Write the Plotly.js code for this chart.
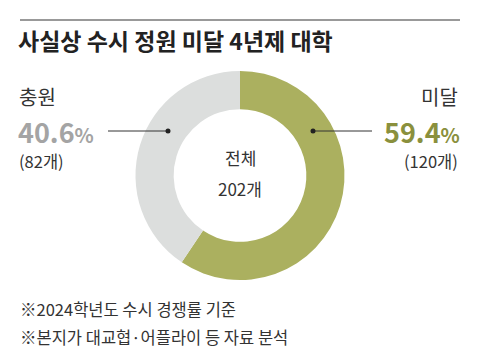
<!DOCTYPE html>
<html><head><meta charset="utf-8">
<script src="https://cdn.plot.ly/plotly-3.0.1.min.js"></script>
<style>html,body{margin:0;padding:0;background:#fff;}#chart{width:480px;height:360px;}</style>
</head><body><div id="chart"></div>
<script>
const labels = ['미달', '충원'];
const counts = [120, 82];
const percents = ['59.4', '40.6'];
const total = 202;
const title = '사실상 수시 정원 미달 4년제 대학';
const notes = ['※2024학년도 수시 경쟁률 기준', '※본지가 대교협·어플라이 등 자료 분석'];

const W = 480, H = 360;
const FONT = '"Noto Sans CJK KR", "Noto Sans", sans-serif';
const px = x => x / W;
const py = y => 1 - y / H;
const cx = 240, cy = 175.5, R = 104.5;

const olive = '#abb05f', gray = '#dcdedd';

const trace = {
  type: 'pie',
  labels: labels,
  values: counts,
  sort: false,
  direction: 'clockwise',
  rotation: 0,
  hole: 0.635,
  marker: {colors: [olive, gray], line: {width: 0}},
  textinfo: 'none',
  hoverinfo: 'none',
  showlegend: false,
  domain: {x: [px(cx - R), px(cx + R)], y: [py(cy + R), py(cy - R)]}
};

const ann = [];
function T(text, x, y, opts) {
  ann.push(Object.assign({text: text, x: px(x), y: py(y), xref: 'paper', yref: 'paper',
    showarrow: false, xanchor: 'left', yanchor: 'middle', borderpad: 0,
    font: {family: FONT, size: 16, color: '#333'}}, opts || {}));
}
T('<b>' + title + '</b>', 17, 40, {font: {family: FONT, size: 23, color: '#222'}});
// left: 충원
T(labels[1], 18, 96, {height: 24, font: {family: FONT, size: 20, color: '#333'}});
T('<b>' + percents[1] + '<span style="font-size:20px">%</span></b>', 17, 131, {height: 26, font: {family: FONT, size: 27, color: '#a4a4a4'}});
T('(' + counts[1] + '개)', 18, 161, {height: 20, font: {family: FONT, size: 16.5, color: '#333'}});
// right: 미달
T(labels[0], 459, 96, {xanchor: 'right', height: 24, font: {family: FONT, size: 20, color: '#333'}});
T('<b>' + percents[0] + '<span style="font-size:20px">%</span></b>', 461, 131, {xanchor: 'right', height: 26, font: {family: FONT, size: 27, color: '#8a903d'}});
T('(' + counts[0] + '개)', 459, 161, {xanchor: 'right', height: 20, font: {family: FONT, size: 16.5, color: '#333'}});
// center
T('전체', cx, 157, {xanchor: 'center', font: {family: FONT, size: 17, color: '#333'}});
T(total + '개', cx, 188, {xanchor: 'center', font: {family: FONT, size: 17, color: '#333'}});
// notes
T(notes[0], 19, 309, {font: {family: FONT, size: 16.5, color: '#333'}});
T(notes[1], 19, 337, {font: {family: FONT, size: 16.5, color: '#333'}});

const shapes = [
  {type: 'line', xref: 'paper', yref: 'paper', x0: px(20), x1: px(460), y0: py(20), y1: py(20), line: {color: '#777', width: 1.5}},
  {type: 'line', xref: 'paper', yref: 'paper', x0: px(108), x1: px(168), y0: py(131), y1: py(131), line: {color: '#333', width: 1}},
  {type: 'line', xref: 'paper', yref: 'paper', x0: px(313), x1: px(372), y0: py(131), y1: py(131), line: {color: '#333', width: 1}},
  {type: 'circle', xref: 'paper', yref: 'paper', x0: px(165.5), x1: px(170.5), y0: py(128.5), y1: py(133.5), fillcolor: '#222', line: {width: 0}},
  {type: 'circle', xref: 'paper', yref: 'paper', x0: px(310.5), x1: px(315.5), y0: py(128.5), y1: py(133.5), fillcolor: '#222', line: {width: 0}}
];

Plotly.newPlot('chart', [trace], {
  width: W, height: H,
  margin: {l: 0, r: 0, t: 0, b: 0},
  paper_bgcolor: '#fff',
  annotations: ann,
  shapes: shapes
}, {displayModeBar: false, staticPlot: true});
</script></body></html>
